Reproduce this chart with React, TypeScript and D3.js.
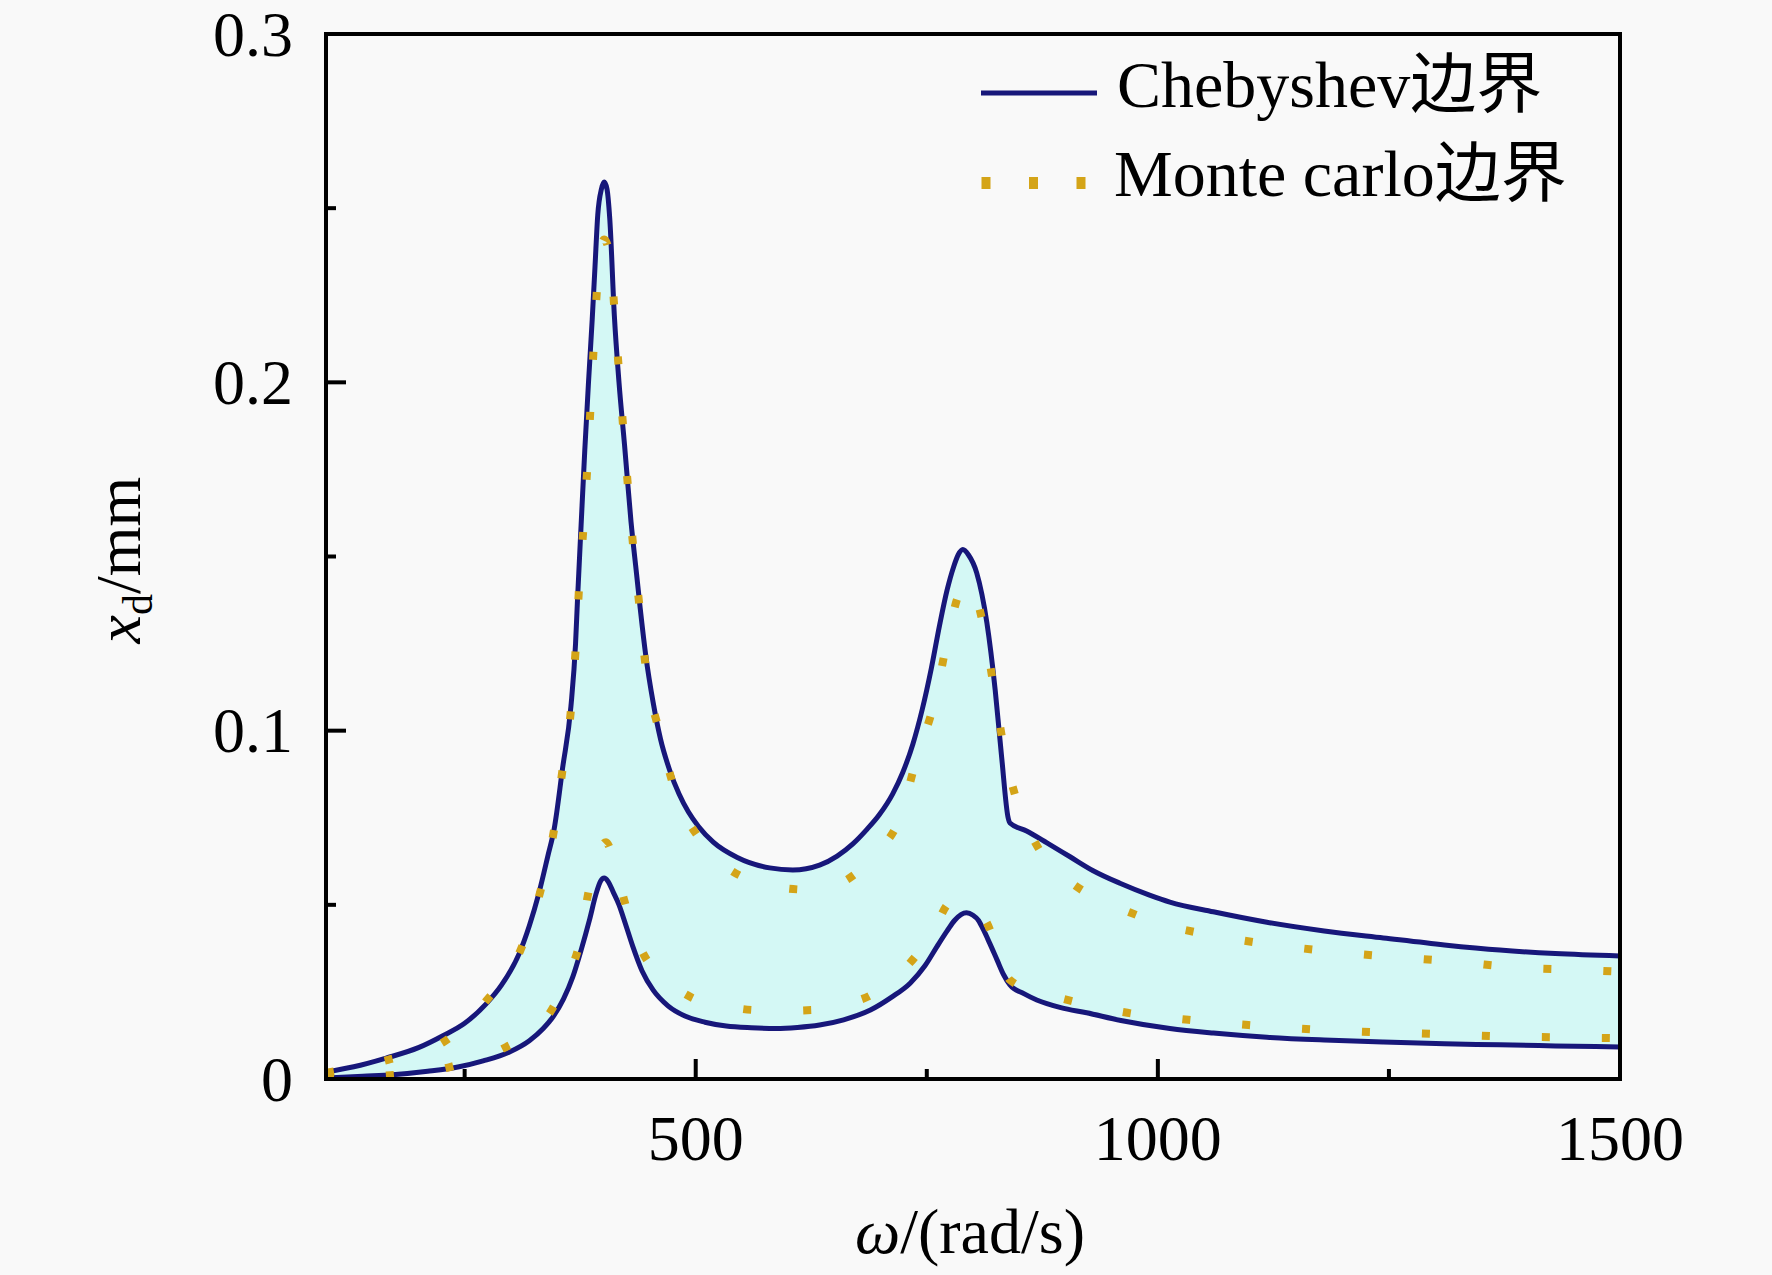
import React, { useEffect } from 'react';
import * as d3 from 'd3';

// ---------- data ----------
const chebUpperX = [100, 130, 165, 200, 227, 250, 273, 290, 309, 320, 330, 340, 347, 356, 365, 370, 372, 376, 380, 384, 388, 391, 394, 398, 401, 404, 407, 412, 417, 423, 430, 436, 440, 446, 454, 462, 472, 482, 492, 503, 519, 545, 580, 605, 634, 653, 670, 685, 699, 713, 724, 735, 745, 755, 764, 772, 779, 784, 789, 795, 804, 815, 824, 831, 838, 840, 858, 880, 905, 930, 959, 991, 1013, 1060, 1118, 1180, 1244, 1310, 1370, 1430, 1500];
const chebUpperY = [0.0020, 0.0035, 0.0060, 0.0090, 0.0125, 0.0160, 0.0215, 0.0270, 0.0360, 0.0440, 0.0530, 0.0640, 0.0720, 0.0893, 0.1070, 0.1250, 0.1370, 0.1590, 0.1806, 0.2000, 0.2180, 0.2330, 0.2480, 0.2555, 0.2575, 0.2555, 0.2470, 0.2190, 0.2000, 0.1820, 0.1600, 0.1450, 0.1350, 0.1215, 0.1080, 0.0975, 0.0885, 0.0818, 0.0767, 0.0725, 0.0680, 0.0636, 0.0606, 0.0600, 0.0614, 0.0640, 0.0675, 0.0716, 0.0760, 0.0818, 0.0880, 0.0962, 0.1060, 0.1180, 0.1305, 0.1404, 0.1470, 0.1505, 0.1520, 0.1505, 0.1453, 0.1310, 0.1117, 0.0924, 0.0750, 0.0735, 0.0712, 0.0678, 0.0638, 0.0598, 0.0562, 0.0528, 0.0508, 0.0480, 0.0450, 0.0425, 0.0405, 0.0385, 0.0370, 0.0360, 0.0353];

const chebLowerX = [100, 140, 172, 210, 244, 270, 298, 320, 335, 346, 357, 367, 376, 385, 392, 397, 401, 405, 411, 417, 424, 432, 442, 454, 470, 489, 510, 533, 560, 587, 610, 634, 660, 689, 712, 732, 748, 761, 772, 780, 787, 793, 800, 806, 811, 818, 826, 833, 840, 855, 869, 895, 923, 960, 1013, 1060, 1118, 1180, 1244, 1310, 1370, 1430, 1500];
const chebLowerY = [0.0003, 0.0008, 0.0012, 0.0022, 0.0035, 0.0052, 0.0077, 0.0110, 0.0145, 0.0180, 0.0230, 0.0293, 0.0370, 0.0456, 0.0530, 0.0568, 0.0577, 0.0568, 0.0535, 0.0500, 0.0445, 0.0380, 0.0310, 0.0255, 0.0210, 0.0180, 0.0163, 0.0152, 0.0147, 0.0145, 0.0148, 0.0155, 0.0170, 0.0198, 0.0235, 0.0275, 0.0325, 0.0380, 0.0425, 0.0455, 0.0472, 0.0477, 0.0470, 0.0455, 0.0430, 0.0390, 0.0342, 0.0300, 0.0270, 0.0245, 0.0227, 0.0205, 0.0190, 0.0168, 0.0145, 0.0132, 0.0120, 0.0112, 0.0106, 0.0101, 0.0098, 0.0095, 0.0092];

const mcUpperX = [100, 167, 227, 272, 312, 333, 347, 356, 365, 370, 374, 379, 383, 386, 390, 393, 397, 401, 405, 409, 412, 417, 423, 428, 433, 439, 446, 461, 478, 505, 530, 564, 595, 626, 655, 678, 700, 721, 739, 759, 773, 783, 791, 800, 807, 813, 824, 835, 845, 853, 867, 881, 908, 937, 970, 1000, 1065, 1125, 1192, 1257, 1325, 1389, 1455, 1500];
const mcUpperY = [0.0018, 0.0055, 0.0106, 0.0220, 0.0380, 0.0550, 0.0720, 0.0890, 0.1060, 0.1230, 0.1420, 0.1600, 0.1770, 0.1920, 0.2120, 0.2260, 0.2370, 0.2410, 0.2390, 0.2320, 0.2210, 0.2030, 0.1820, 0.1660, 0.1510, 0.1360, 0.1180, 0.0993, 0.0824, 0.0686, 0.0615, 0.0566, 0.0548, 0.0543, 0.0560, 0.0600, 0.0660, 0.0750, 0.0920, 0.1090, 0.1270, 0.1380, 0.1427, 0.1400, 0.1350, 0.1275, 0.1100, 0.0927, 0.0820, 0.0758, 0.0680, 0.0623, 0.0560, 0.0514, 0.0478, 0.0448, 0.0410, 0.0385, 0.0365, 0.0350, 0.0336, 0.0320, 0.0313, 0.0308];

const mcLowerX = [100, 170, 235, 295, 325, 346, 360, 373, 385, 395, 403, 410, 423, 433, 444, 470, 497, 530, 563, 595, 627, 660, 689, 715, 739, 758, 774, 785, 795, 815, 828, 840, 870, 902, 967, 1033, 1098, 1165, 1230, 1296, 1364, 1429, 1500];
const mcLowerY = [0.0003, 0.0011, 0.0035, 0.0092, 0.0140, 0.0207, 0.0290, 0.0376, 0.0550, 0.0650, 0.0680, 0.0640, 0.0510, 0.0420, 0.0356, 0.0280, 0.0232, 0.0210, 0.0198, 0.0196, 0.0198, 0.0215, 0.0240, 0.0290, 0.0356, 0.0430, 0.0505, 0.0515, 0.0500, 0.0448, 0.0360, 0.0284, 0.0250, 0.0227, 0.0190, 0.0170, 0.0155, 0.0143, 0.0135, 0.0130, 0.0123, 0.0120, 0.0117];

const xMajorTicks = [500, 1000, 1500];
const xMinorTicks = [250, 750, 1250];
const yMajorTicks = [0, 0.1, 0.2, 0.3];
const yMinorTicks = [0.05, 0.15, 0.25];
const yTickLabels = ['0', '0.1', '0.2', '0.3'];
const xTickLabels = ['500', '1000', '1500'];
const legendLabels = ['Chebyshev边界', 'Monte carlo边界'];

// ---------- styles ----------
const W = 1772;
const H = 1275;
const L = 326, R = 1620, T = 34, B = 1079;
const NAVY = '#17177a';
const GOLD = '#d4a418';
const FILL = '#d4f8f5';
const BG = '#f9f9f9';
const FONT = '"Liberation Serif", "Times New Roman", "Noto Sans CJK SC", serif';

type P = [number, number];
const zip = (xs: number[], ys: number[]): P[] => xs.map((v, i) => [v, ys[i]]);

export default function App() {
  useEffect(() => {
    document.body.style.margin = '0';
    document.body.style.background = BG;
  }, []);

  const x = d3.scaleLinear().domain([100, 1500]).range([L, R]);
  const y = d3.scaleLinear().domain([0, 0.3]).range([B, T]);

  const line = d3
    .line<P>()
    .x((d) => x(d[0]))
    .y((d) => y(d[1]))
    .curve(d3.curveMonotoneX);
  const area = d3
    .area<P>()
    .x((d) => x(d[0]))
    .y0(y(0))
    .y1((d) => y(d[1]))
    .curve(d3.curveMonotoneX);

  const cu = zip(chebUpperX, chebUpperY);
  const cl = zip(chebLowerX, chebLowerY);
  const mu = zip(mcUpperX, mcUpperY);
  const ml = zip(mcLowerX, mcLowerY);

  const major = 20;
  const minor = 10;
  const fs = 64;

  return (
    <svg width={W} height={H} style={{ display: 'block', background: BG }} fontFamily={FONT}>
      <rect x={0} y={0} width={W} height={H} fill={BG} />
      <defs>
        <clipPath id="plotClip">
          <rect x={L} y={T} width={R - L} height={B - T} />
        </clipPath>
      </defs>

      <g clipPath="url(#plotClip)">
        <path d={area(cu) || ''} fill={FILL} />
        <path d={area(cl) || ''} fill={BG} />
        <path d={line(cu) || ''} fill="none" stroke={NAVY} strokeWidth={5} strokeLinejoin="round" />
        <path d={line(cl) || ''} fill="none" stroke={NAVY} strokeWidth={5} strokeLinejoin="round" />
        <path d={line(mu) || ''} fill="none" stroke={GOLD} strokeWidth={8} strokeDasharray="8 52" />
        <path d={line(ml) || ''} fill="none" stroke={GOLD} strokeWidth={8} strokeDasharray="8 52" />
      </g>

      {/* frame */}
      <rect x={L} y={T} width={R - L} height={B - T} fill="none" stroke="#000" strokeWidth={4} />

      {/* x ticks */}
      {xMajorTicks.map((t) => (
        <line key={'xM' + t} x1={x(t)} x2={x(t)} y1={B} y2={B - major} stroke="#000" strokeWidth={4} />
      ))}
      {xMinorTicks.map((t) => (
        <line key={'xm' + t} x1={x(t)} x2={x(t)} y1={B} y2={B - minor} stroke="#000" strokeWidth={4} />
      ))}
      {xMajorTicks.map((t, i) => (
        <text key={'xl' + t} x={x(t)} y={1160} fontSize={fs} textAnchor="middle" fill="#000">
          {xTickLabels[i]}
        </text>
      ))}

      {/* y ticks */}
      {yMajorTicks.map((t) => (
        <line key={'yM' + t} x1={L} x2={L + major} y1={y(t)} y2={y(t)} stroke="#000" strokeWidth={4} />
      ))}
      {yMinorTicks.map((t) => (
        <line key={'ym' + t} x1={L} x2={L + minor} y1={y(t)} y2={y(t)} stroke="#000" strokeWidth={4} />
      ))}
      {yMajorTicks.map((t, i) => (
        <text key={'yl' + t} x={293} y={y(t)} dy="0.34em" fontSize={fs} textAnchor="end" fill="#000">
          {yTickLabels[i]}
        </text>
      ))}

      {/* axis titles */}
      <text x={970} y={1253} fontSize={fs} textAnchor="middle" fill="#000">
        <tspan fontStyle="italic">ω</tspan>
        <tspan>/(rad/s)</tspan>
      </text>
      <text transform="translate(140,560) rotate(-90)" fontSize={fs} textAnchor="middle" fill="#000">
        <tspan fontStyle="italic">x</tspan>
        <tspan fontSize={42} dy={12}>d</tspan>
        <tspan dy={-12}>/mm</tspan>
      </text>

      {/* legend */}
      <line x1={981} x2={1097} y1={93} y2={93} stroke={NAVY} strokeWidth={5} />
      <text x={1117} y={107} fontSize={66} fill="#000">
        {legendLabels[0]}
      </text>
      <line x1={981.5} x2={1090} y1={183} y2={183} stroke={GOLD} strokeWidth={12} strokeDasharray="9 38.5" />
      <text x={1114} y={196} fontSize={66} fill="#000">
        {legendLabels[1]}
      </text>
    </svg>
  );
}
